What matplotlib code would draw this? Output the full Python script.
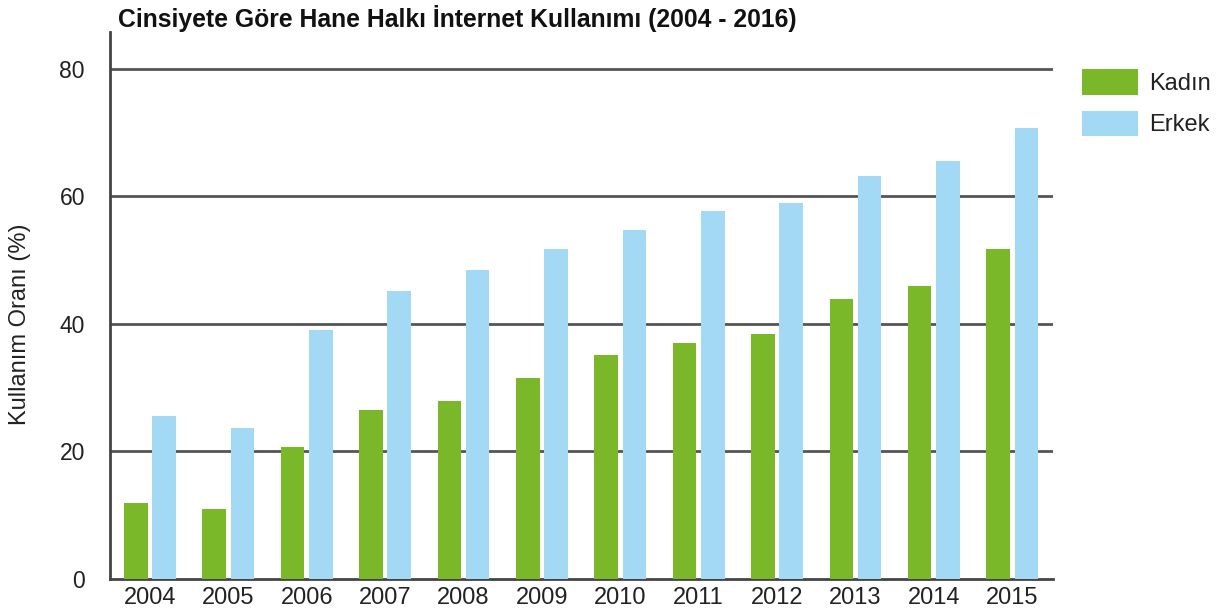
import numpy as np
import matplotlib
matplotlib.use("Agg")
import matplotlib.pyplot as plt

plt.rcParams["font.family"] = ["Liberation Sans", "DejaVu Sans"]

years = ["2004", "2005", "2006", "2007", "2008", "2009", "2010", "2011", "2012", "2013", "2014", "2015"]
kadin = [11.9, 11.0, 20.7, 26.5, 27.9, 31.5, 35.1, 37.0, 38.4, 43.9, 46.0, 51.8]
erkek = [25.6, 23.7, 39.1, 45.2, 48.5, 51.8, 54.7, 57.7, 59.0, 63.2, 65.6, 70.7]
yticks = [0, 20, 40, 60, 80]

GREEN, BLUE, GRID, TXT = "#7ab829", "#a3d9f5", "#555555", "#222222"

fig = plt.figure(figsize=(12.19, 6.11), dpi=100)
ax = fig.add_axes([110 / 1219, 32 / 611, 943 / 1219, 547 / 611])

x = np.arange(len(years))
w = 0.3
ax.bar(x - 0.03 - w / 2, kadin, w, color=GREEN, label="Kadın", zorder=3)
ax.bar(x + 0.03 + w / 2, erkek, w, color=BLUE, label="Erkek", zorder=3)

ax.set_xlim(-0.51, 11.52)
ax.set_ylim(0, 85.8)
ax.set_yticks(yticks)
ax.set_yticklabels([str(v) for v in yticks], fontsize=16.5, color=TXT)
ax.set_xticks(x)
ax.set_xticklabels(years, fontsize=17, color=TXT)
ax.tick_params(length=0)
ax.tick_params(axis="y", pad=18)
ax.tick_params(axis="x", pad=6)
for v in yticks[1:]:
    ax.axhline(v, color=GRID, lw=2, zorder=1)

for s in ("top", "right"):
    ax.spines[s].set_visible(False)
for s in ("left", "bottom"):
    ax.spines[s].set_color("#444444")
    ax.spines[s].set_linewidth(2)

ax.set_ylabel("Kullanım Oranı (%)", fontsize=17, color=TXT)
ax.yaxis.set_label_coords(-0.084, 0.465)
fig.text(118 / 1219, 1 - 19 / 611, "Cinsiyete Göre Hane Halkı İnternet Kullanımı (2004 - 2016)",
         fontsize=17.8, fontweight="bold", color="#111111", va="center", ha="left")

ax.legend(loc="upper left", bbox_to_anchor=(1.0205, 0.95), frameon=False, fontsize=17,
          handlelength=2.4, handleheight=1.3, labelspacing=0.68, handletextpad=0.45,
          borderaxespad=0, labelcolor=TXT)

fig.savefig("out.png", dpi=100)
